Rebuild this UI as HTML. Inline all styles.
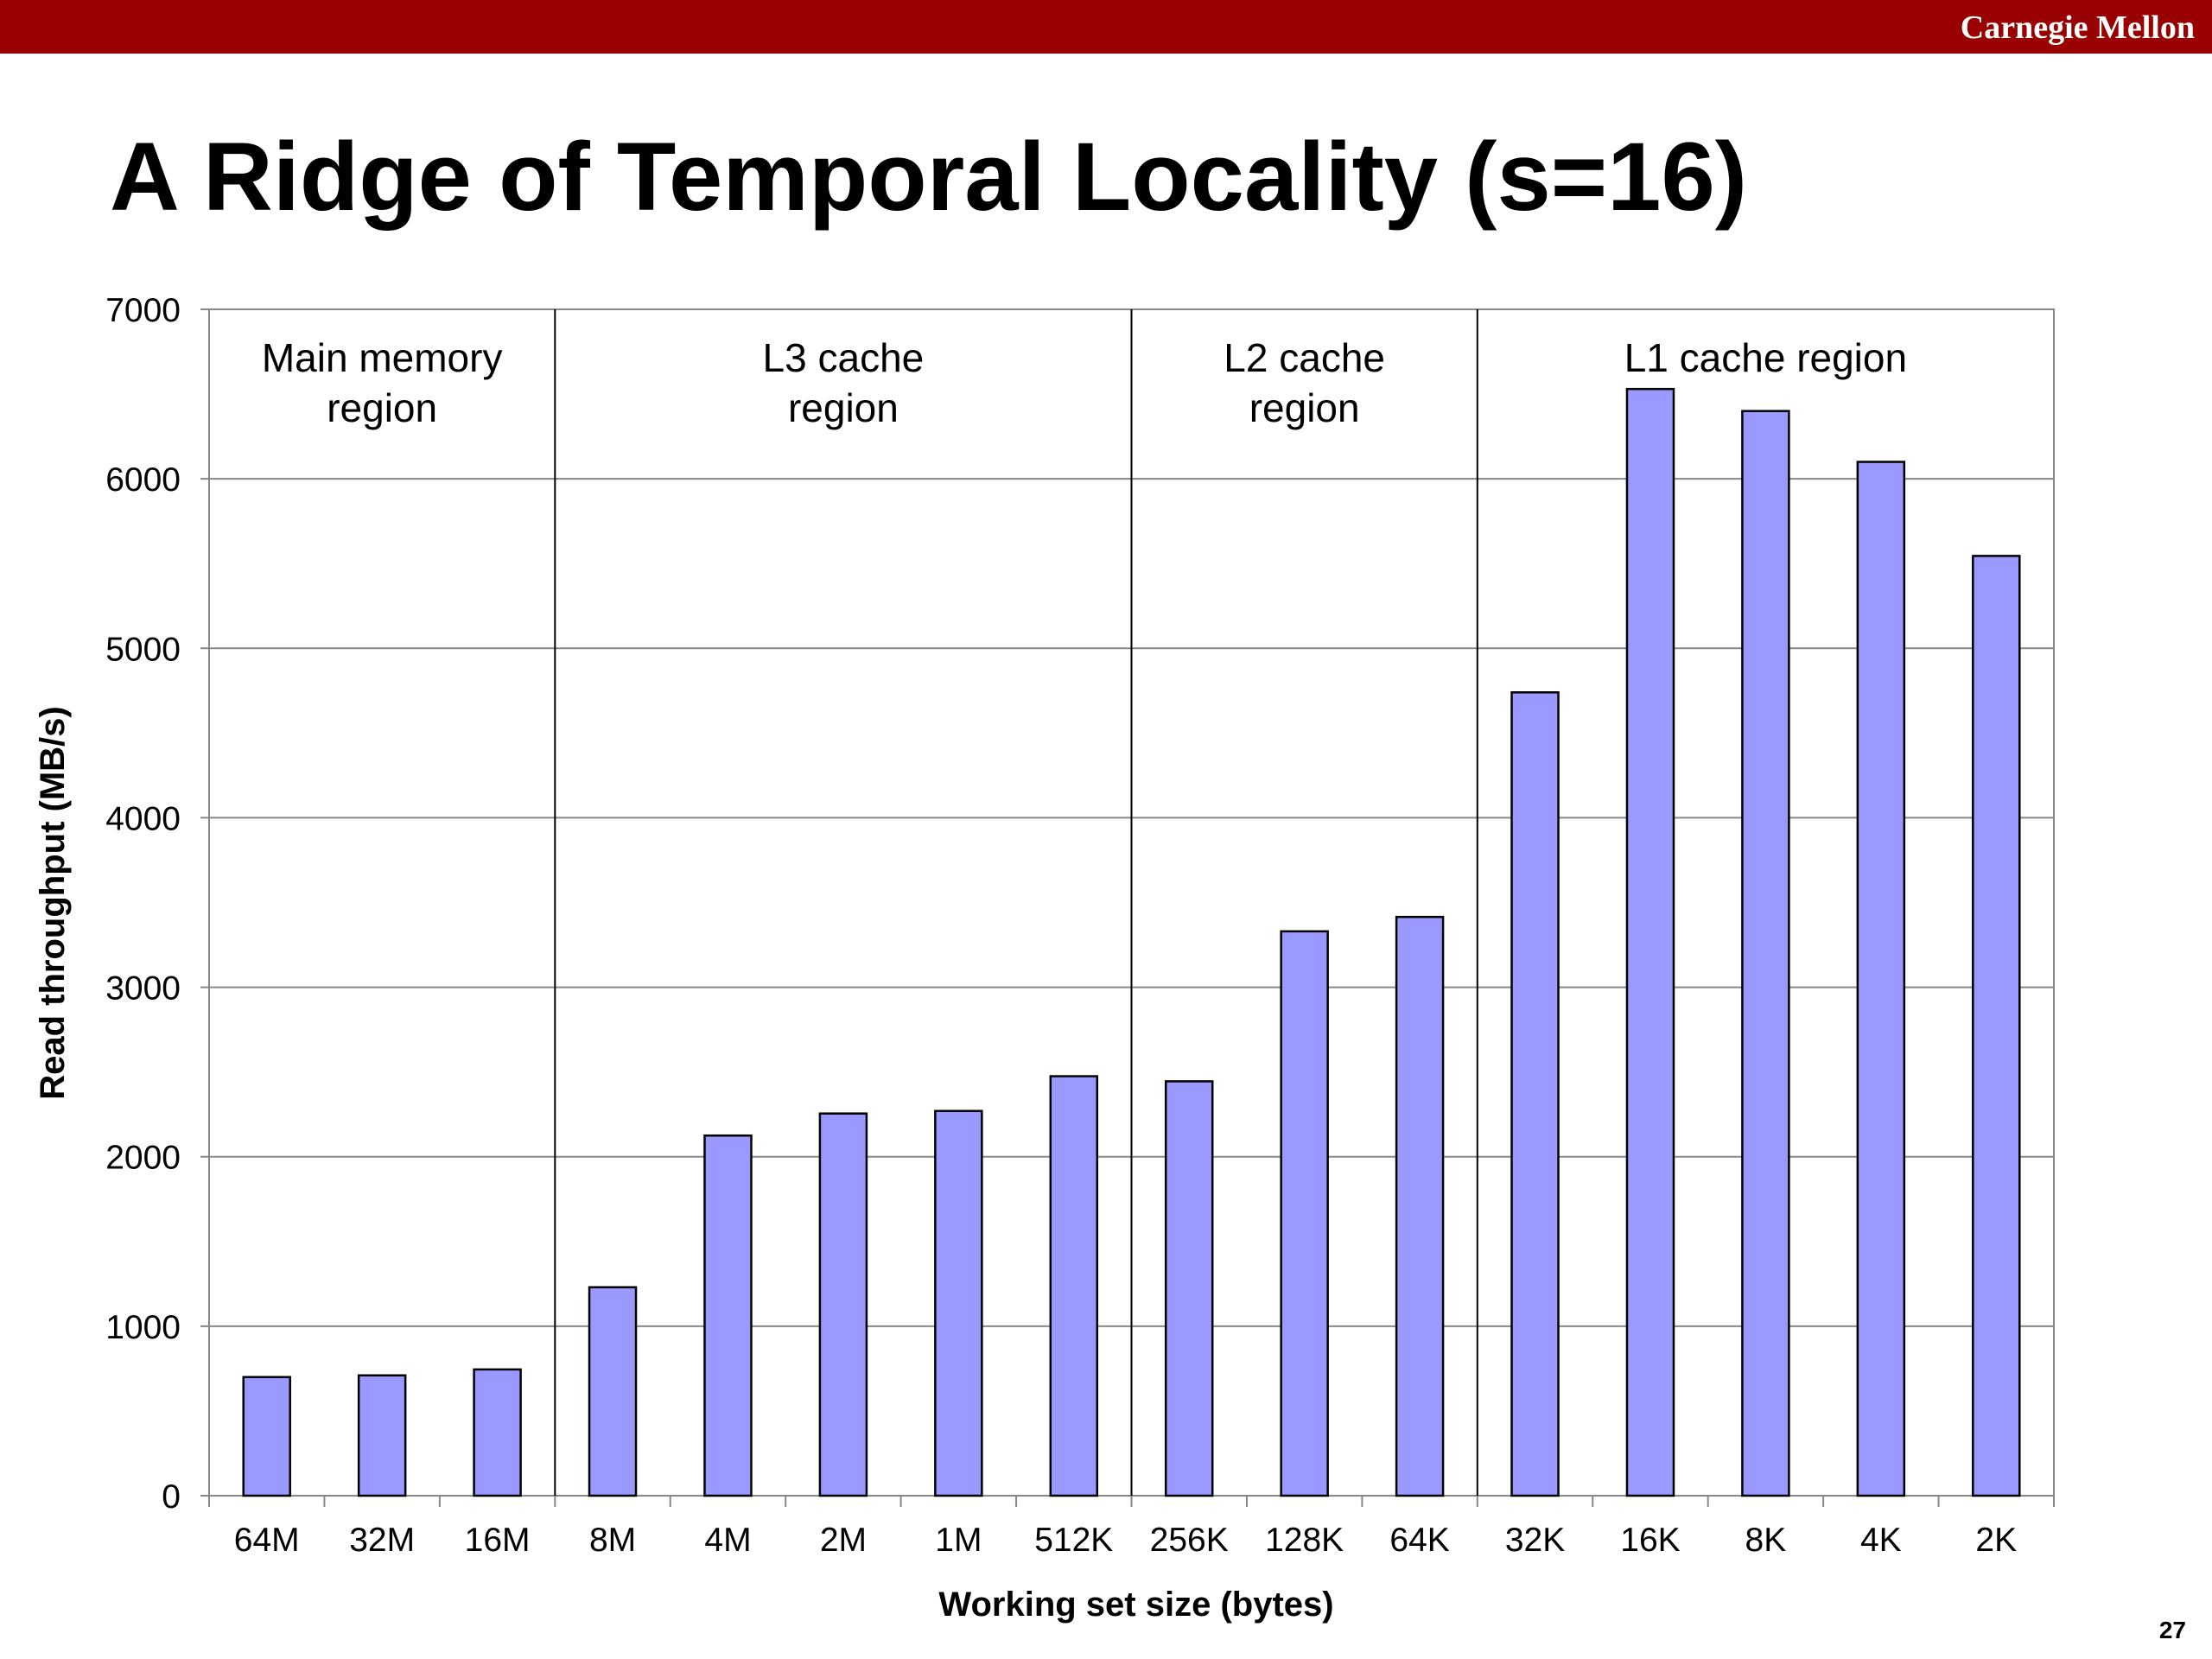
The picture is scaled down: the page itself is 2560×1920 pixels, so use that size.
<!DOCTYPE html>
<html><head><meta charset="utf-8"><style>
html,body{margin:0;padding:0;background:#fff}
svg{display:block}
</style></head><body>
<svg width="2560" height="1920" viewBox="0 0 2560 1920" xmlns="http://www.w3.org/2000/svg">
<rect x="0" y="0" width="2560" height="62" fill="#990000"/>
<text x="2540" y="44" text-anchor="end" font-family="Liberation Serif, serif" font-weight="bold" font-size="38" fill="#fff">Carnegie Mellon</text>
<text x="127" y="243" font-family="Liberation Sans, sans-serif" font-weight="bold" font-size="112" fill="#000">A Ridge of Temporal Locality (s=16)</text>
<text x="2530" y="1896" text-anchor="end" font-family="Liberation Sans, sans-serif" font-weight="bold" font-size="28">27</text>
<g id="chart"></g>
</svg>
<script>
const categories=["64M","32M","16M","8M","4M","2M","1M","512K","256K","128K","64K","32K","16K","8K","4K","2K"];
const values=[700,710,745,1230,2125,2255,2270,2475,2445,3330,3415,4740,6530,6400,6100,5545];
const yTicks=[0,1000,2000,3000,4000,5000,6000,7000];
const regions=[{label:["Main memory","region"],from:0,to:3},{label:["L3 cache","region"],from:3,to:8},{label:["L2 cache","region"],from:8,to:11},{label:["L1 cache region"],from:11,to:16}];
const NS="http://www.w3.org/2000/svg";
const L=242,R=2377,T=358,B=1731,YMAX=7000;
const g=document.getElementById('chart');
const bw=(R-L)/categories.length;
const y=v=>B-(v/YMAX)*(B-T);
const x=i=>L+i*bw;
function mk(tag,attrs,text){const e=document.createElementNS(NS,tag);for(const k in attrs)e.setAttribute(k,attrs[k]);if(text!==undefined)e.textContent=text;g.appendChild(e);return e;}
const font="Liberation Sans, sans-serif";
mk('rect',{x:L,y:T,width:R-L,height:B-T,fill:'#fff',stroke:'#888','stroke-width':2});
yTicks.forEach(t=>{
 const ln=mk('line',{x1:L-10,x2:R,y1:y(t),y2:y(t),stroke:'#888','stroke-width':2});
 
 
 const tx=mk('text',{x:L-33,y:y(t)+14,'text-anchor':'end','font-family':font,'font-size':39,fill:'#000'},String(t));
 
 
});
regions.forEach((r,k)=>{
 if(r.from>0){const ln=mk('line',{x1:x(r.from),x2:x(r.from),y1:T,y2:B,stroke:'#000','stroke-width':2});
 
 }
 const cx=(x(r.from)+x(r.to))/2;
 r.label.forEach((s,j)=>{const tx=mk('text',{x:cx,y:430+j*58,'text-anchor':'middle','font-family':font,'font-size':46,fill:'#000'},s);
 
 });
});
categories.forEach((c,i)=>{
 const cx=x(i)+bw/2,w=54;
 const b=mk('rect',{x:cx-w/2,y:y(values[i]),width:w,height:B-y(values[i]),fill:'#9999ff',stroke:'#000','stroke-width':2.5});
 
 
 const tk=mk('line',{x1:x(i),x2:x(i),y1:B,y2:B+13,stroke:'#888','stroke-width':2});
 
 
 const tx=mk('text',{x:cx,y:1795,'text-anchor':'middle','font-family':font,'font-size':39,fill:'#000'},c);
 
 
});
const tk=mk('line',{x1:R,x2:R,y1:B,y2:B+13,stroke:'#888','stroke-width':2});


const xt=mk('text',{x:1315,y:1870,'text-anchor':'middle','font-family':font,'font-size':40,'font-weight':'bold'},'Working set size (bytes)');


const yt=mk('text',{x:0,y:0,'text-anchor':'middle','font-family':font,'font-size':40,'font-weight':'bold',transform:'translate(74,1045) rotate(-90)'},'Read throughput (MB/s)');


</script>
</body></html>
